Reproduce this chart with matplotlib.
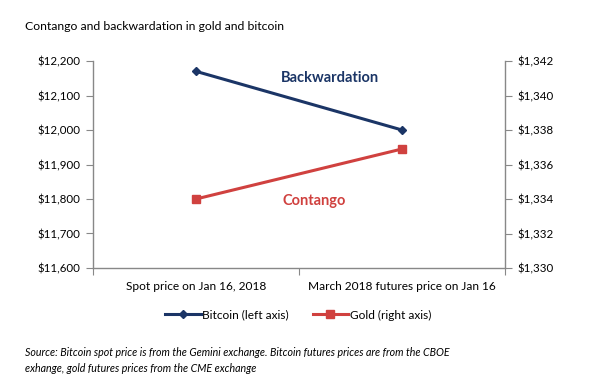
import matplotlib
matplotlib.use("Agg")
import matplotlib.pyplot as plt
from matplotlib.ticker import FuncFormatter

categories = ["Spot price on Jan 16, 2018", "March 2018 futures price on Jan 16"]
bitcoin = [12170, 12000]
gold = [1334.0, 1336.9]

NAVY = "#1b3566"
RED = "#d0413f"
GREY = "#888888"

plt.rcParams["font.family"] = ["Lato", "DejaVu Sans"]

fig = plt.figure(figsize=(6.13, 3.79), dpi=100)
ax = fig.add_axes([93 / 613, 1 - 268 / 379, 412 / 613, 207 / 379])
ax2 = ax.twinx()

x = range(len(categories))
l1, = ax.plot(x, bitcoin, color=NAVY, lw=2.2, marker="D", ms=4.5, label="Bitcoin (left axis)")
l2, = ax2.plot(x, gold, color=RED, lw=2.2, marker="s", ms=5.5, label="Gold (right axis)")

ax.set_xlim(-0.5, 1.5)
ax.set_ylim(11600, 12200)
ax.set_yticks(range(11600, 12201, 100))
ax2.set_ylim(1330, 1342)
ax2.set_yticks(range(1330, 1343, 2))
ax.yaxis.set_major_formatter(FuncFormatter(lambda v, p: "${:,.0f}".format(v)))
ax2.yaxis.set_major_formatter(FuncFormatter(lambda v, p: "${:,.0f}".format(v)))

ax.set_xticks([-0.5, 0.5, 1.5])
ax.set_xticklabels([])
ax.set_xticks(list(x), minor=True)
ax.set_xticklabels(categories, minor=True)
ax.tick_params(axis="x", which="minor", length=0, pad=9, labelsize=8.6)
ax.tick_params(axis="x", which="major", length=5, color=GREY)

for a in (ax, ax2):
    for s in a.spines.values():
        s.set_visible(False)
    a.tick_params(axis="y", length=5, color=GREY, labelsize=8.3, pad=4)
ax.spines["left"].set_visible(True)
ax.spines["bottom"].set_visible(True)
ax2.spines["right"].set_visible(True)
for s in (ax.spines["left"], ax.spines["bottom"], ax2.spines["right"]):
    s.set_color(GREY)
    s.set_linewidth(1.0)

ax.text(0.65, 12151, "Backwardation", color=NAVY, fontsize=10.5, fontweight="bold",
        ha="center", va="center")
ax2.text(0.573, 1333.9, "Contango", color=RED, fontsize=10.5, fontweight="bold",
         ha="center", va="center")

fig.legend(handles=[l1, l2], loc="center", bbox_to_anchor=(298 / 613, 1 - 315 / 379),
           ncol=2, frameon=False, fontsize=8.6, handlelength=3.0, columnspacing=2.0,
           handletextpad=0.1)

fig.text(25 / 613, 1 - 27 / 379, "Contango and backwardation in gold and bitcoin",
         fontsize=8.8, va="center", ha="left")
fig.text(25 / 613, 1 - 352 / 379,
         "Source: Bitcoin spot price is from the Gemini exchange. Bitcoin futures prices are from the CBOE",
         fontsize=7.7, style="italic", va="center", ha="left")
fig.text(25 / 613, 1 - 369 / 379, "exhange, gold futures prices from the CME exchange",
         fontsize=7.7, style="italic", va="center", ha="left")

fig.savefig("out.png", dpi=100)
